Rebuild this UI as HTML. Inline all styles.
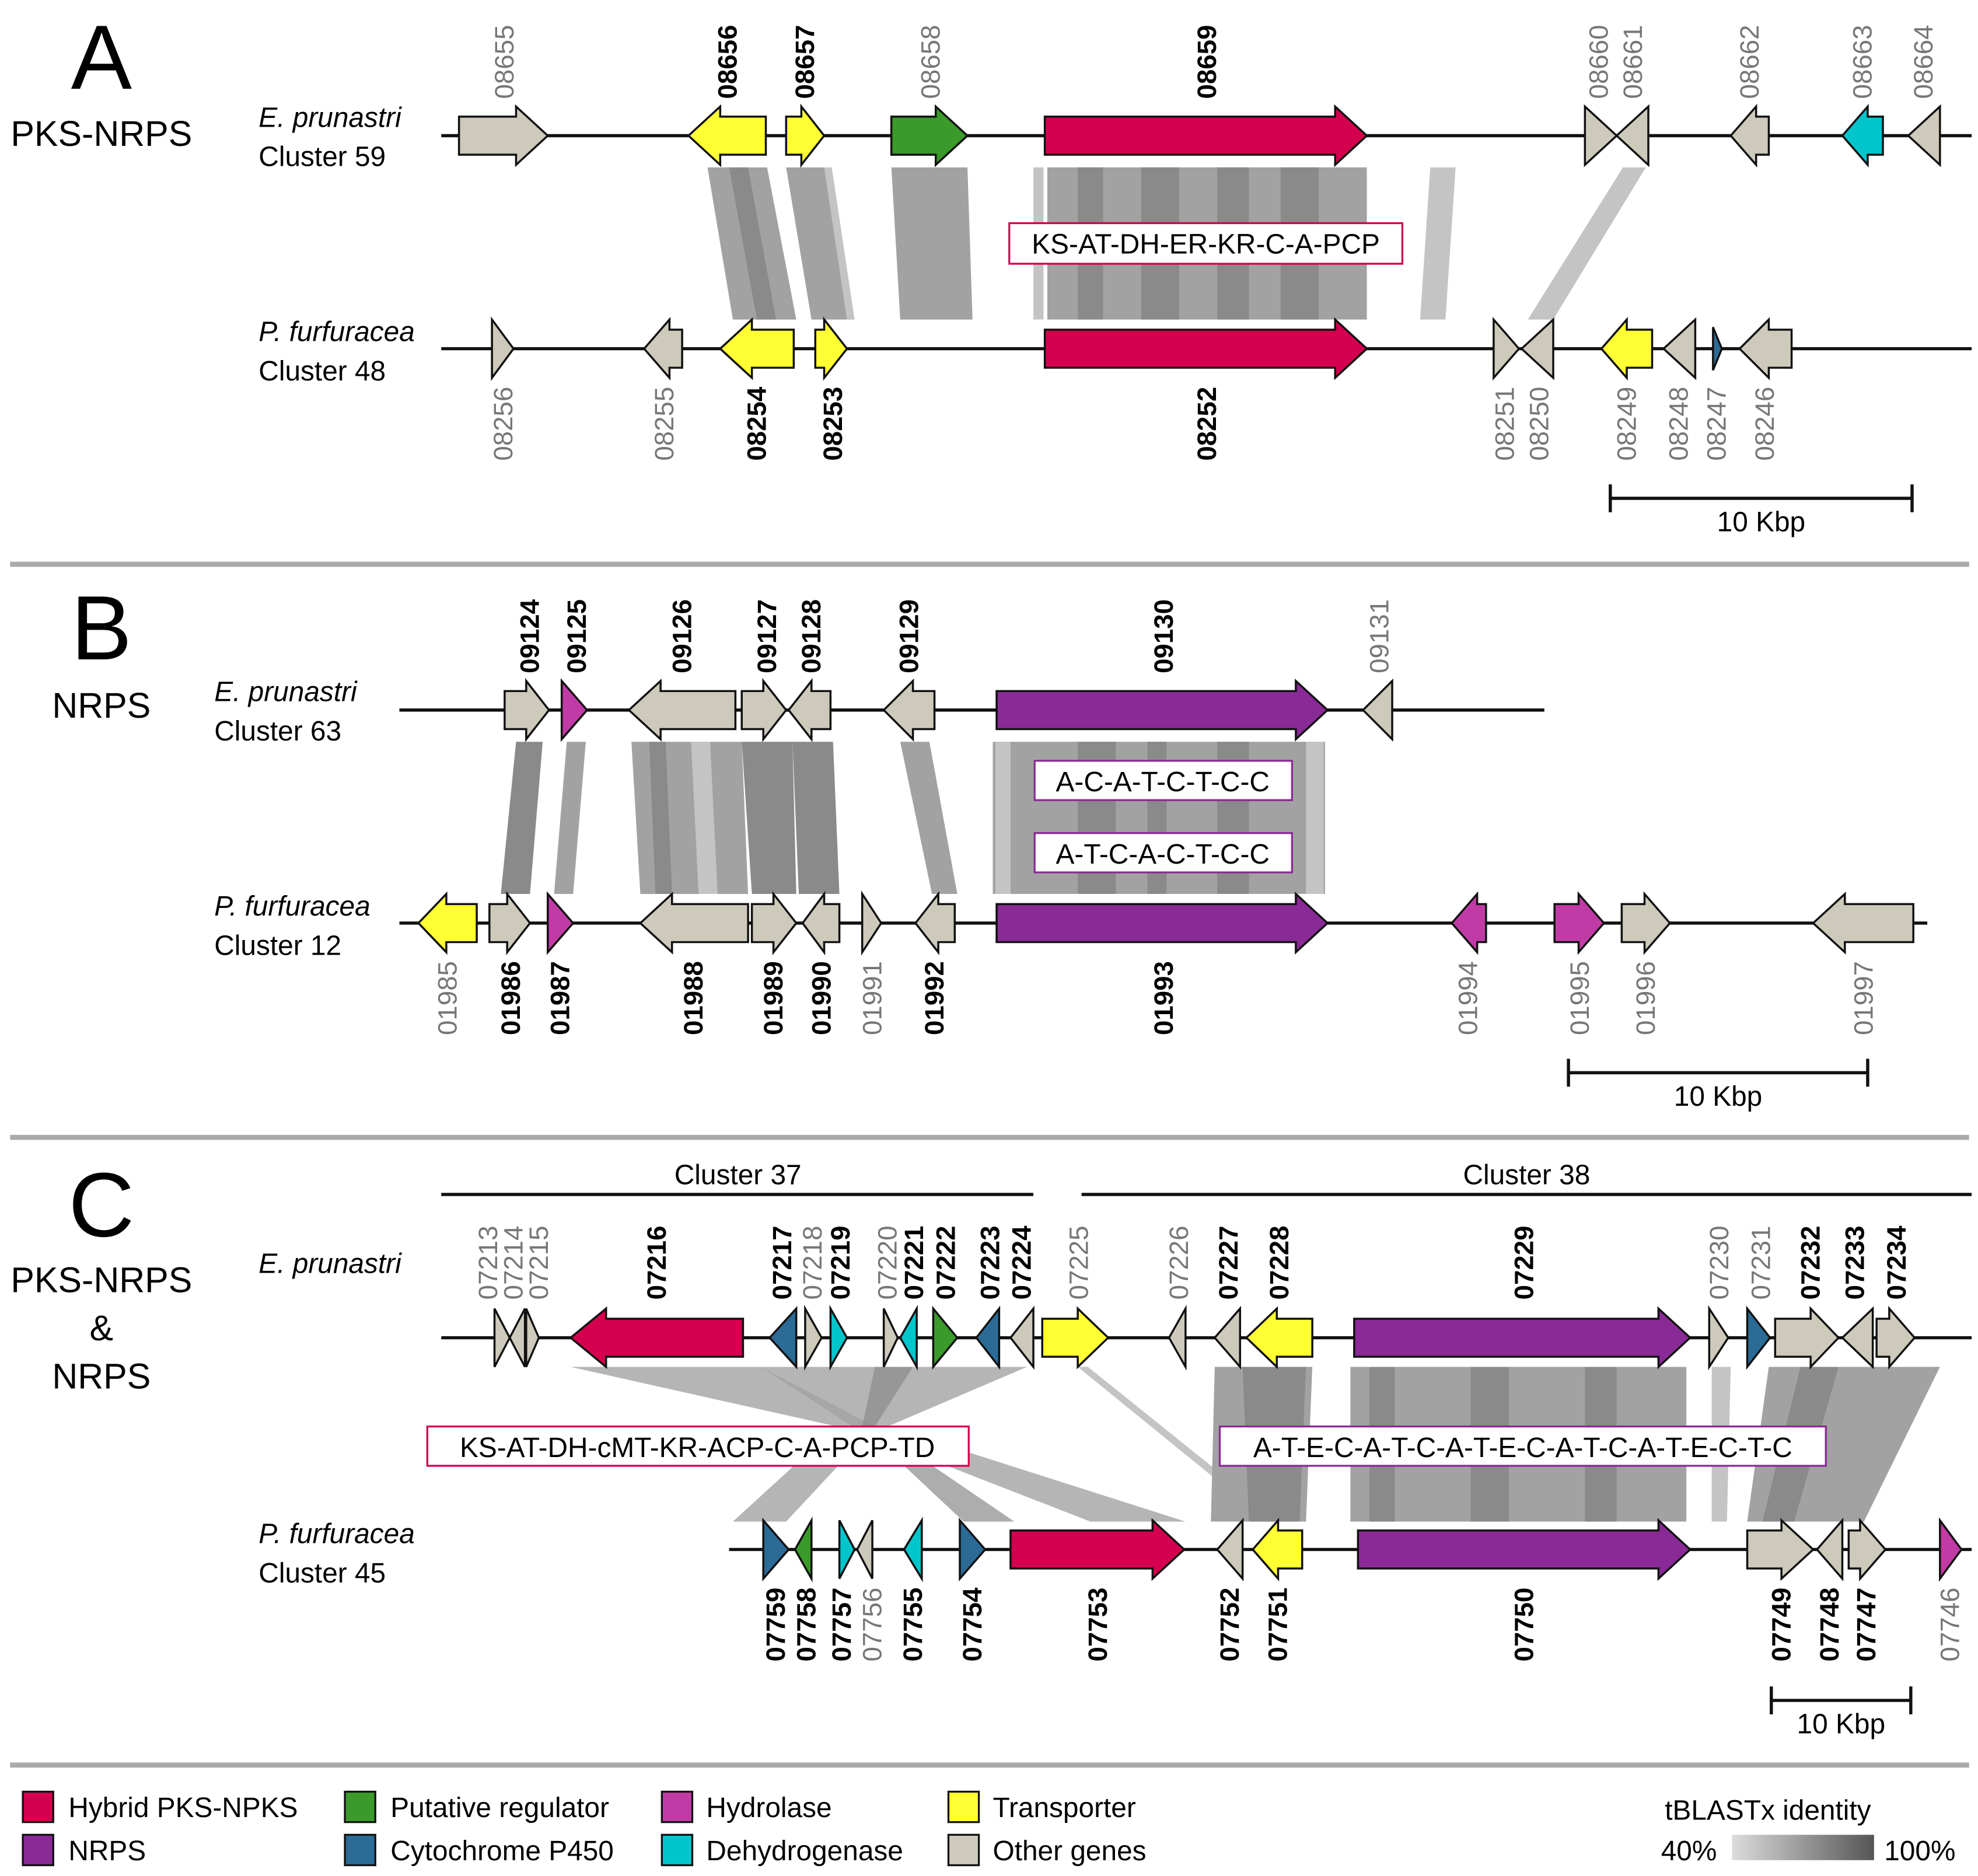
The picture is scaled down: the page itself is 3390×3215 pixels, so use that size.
<!DOCTYPE html>
<html><head><meta charset="utf-8"><style>
html,body{margin:0;padding:0;background:#fff;}
svg{display:block;}
text{font-family:"Liberation Sans",sans-serif;}
.g{fill:#cdc9bb}.cr{fill:#d4004f}.pu{fill:#8a2a96}.gr{fill:#3a9a2a}.bl{fill:#2b6b96}.cy{fill:#00c6cc}.ye{fill:#ffff33}.mg{fill:#c13ba6}
polygon.gene{stroke:#111;stroke-width:1.6;stroke-linejoin:miter}
.lb{font-size:21px;fill:#777}
.lb.b{fill:#000;font-weight:bold}
.band{fill:#a2a2a2}
.bd{fill:#8a8a8a}
.bl2{fill:#c4c4c4}
</style></head><body>
<svg width="3390" height="3215" viewBox="0 0 1560 1479.5" preserveAspectRatio="none" xmlns="http://www.w3.org/2000/svg">
<defs><linearGradient id="gd" x1="0" x2="1"><stop offset="0" stop-color="#dcdcdc"/><stop offset="1" stop-color="#555"/></linearGradient></defs>

<!-- ===== Panel A ===== -->
<text x="80" y="70" font-size="72" text-anchor="middle">A</text>
<text x="80" y="115" font-size="28" text-anchor="middle">PKS-NRPS</text>
<text x="204" y="100" font-size="22" font-style="italic">E. prunastri</text>
<text x="204" y="131" font-size="22">Cluster 59</text>
<text x="204" y="269" font-size="22" font-style="italic">P. furfuracea</text>
<text x="204" y="300" font-size="22">Cluster 48</text>

<!-- bands A -->
<polygon class="band" points="558,132 605,132 628,252 578,252"/>
<polygon class="bd" points="575,132 590,132 612,252 597,252"/>
<polygon class="band" points="620,132 650,132 672,252 640,252"/>
<polygon class="bl2" points="650,132 656,132 674,252 668,252"/>
<polygon class="band" points="703,132 763,132 767,252 710,252"/>
<rect class="band" x="826" y="132" width="252" height="120"/>
<rect class="bd" x="850" y="132" width="20" height="120"/><rect class="bd" x="900" y="132" width="30" height="120"/><rect class="bd" x="960" y="132" width="25" height="120"/><rect class="bd" x="1010" y="132" width="30" height="120"/>
<rect class="bl2" x="815" y="132" width="8" height="120"/>
<polygon class="bl2" points="1128,132 1148,132 1140,252 1120,252"/>
<polygon class="bl2" points="1280,132 1298,132 1225,252 1205,252"/>
<rect x="796" y="176" width="310" height="32" fill="#fff" stroke="#d4004f" stroke-width="1.5"/>
<text x="951" y="200" font-size="22" text-anchor="middle">KS-AT-DH-ER-KR-C-A-PCP</text>

<line x1="348" y1="107" x2="1555" y2="107" stroke="#111" stroke-width="2.5"/>
<line x1="348" y1="275" x2="1555" y2="275" stroke="#111" stroke-width="2.5"/>
<polygon class="gene g" points="362,92 407,92 407,84 432,107 407,130 407,122 362,122"/>
<polygon class="gene ye" points="604,92 568,92 568,84 543,107 568,130 568,122 604,122"/>
<polygon class="gene ye" points="620,92 632,92 632,84 650,107 632,130 632,122 620,122"/>
<polygon class="gene gr" points="703,92 738,92 738,84 763,107 738,130 738,122 703,122"/>
<polygon class="gene cr" points="824,92 1053,92 1053,84 1078,107 1053,130 1053,122 824,122"/>
<polygon class="gene g" points="1250,84 1275,107 1250,130"/>
<polygon class="gene g" points="1300,84 1275,107 1300,130"/>
<polygon class="gene g" points="1395,92 1385,92 1385,84 1365,107 1385,130 1385,122 1395,122"/>
<polygon class="gene cy" points="1485,92 1473,92 1473,84 1453,107 1473,130 1473,122 1485,122"/>
<polygon class="gene g" points="1530,84 1505,107 1530,130"/>

<polygon class="gene g" points="388,252 405,275 388,298"/>
<polygon class="gene g" points="538,260 528,260 528,252 508,275 528,298 528,290 538,290"/>
<polygon class="gene ye" points="626,260 593,260 593,252 568,275 593,298 593,290 626,290"/>
<polygon class="gene ye" points="643,260 650,260 650,252 668,275 650,298 650,290 643,290"/>
<polygon class="gene cr" points="824,260 1053,260 1053,252 1078,275 1053,298 1053,290 824,290"/>
<polygon class="gene g" points="1178,252 1198,275 1178,298"/>
<polygon class="gene g" points="1225,252 1200,275 1225,298"/>
<polygon class="gene ye" points="1303,260 1283,260 1283,252 1263,275 1283,298 1283,290 1303,290"/>
<polygon class="gene g" points="1337,252 1312,275 1337,298"/>
<polygon class="gene bl" points="1351,258 1358,275 1351,292"/>
<polygon class="gene g" points="1413,260 1395,260 1395,252 1372,275 1395,298 1395,290 1413,290"/>

<g>
<text class="lb" transform="translate(405,78) rotate(-90)">08655</text>
<text class="lb b" transform="translate(581,78) rotate(-90)">08656</text>
<text class="lb b" transform="translate(642,78) rotate(-90)">08657</text>
<text class="lb" transform="translate(741,78) rotate(-90)">08658</text>
<text class="lb b" transform="translate(959,78) rotate(-90)">08659</text>
<text class="lb" transform="translate(1268,78) rotate(-90)">08660</text>
<text class="lb" transform="translate(1295,78) rotate(-90)">08661</text>
<text class="lb" transform="translate(1387,78) rotate(-90)">08662</text>
<text class="lb" transform="translate(1476,78) rotate(-90)">08663</text>
<text class="lb" transform="translate(1524,78) rotate(-90)">08664</text>

<text class="lb" text-anchor="end" transform="translate(404,305) rotate(-90)">08256</text>
<text class="lb" text-anchor="end" transform="translate(531,305) rotate(-90)">08255</text>
<text class="lb b" text-anchor="end" transform="translate(604,305) rotate(-90)">08254</text>
<text class="lb b" text-anchor="end" transform="translate(664,305) rotate(-90)">08253</text>
<text class="lb b" text-anchor="end" transform="translate(959,305) rotate(-90)">08252</text>
<text class="lb" text-anchor="end" transform="translate(1194,305) rotate(-90)">08251</text>
<text class="lb" text-anchor="end" transform="translate(1221,305) rotate(-90)">08250</text>
<text class="lb" text-anchor="end" transform="translate(1290,305) rotate(-90)">08249</text>
<text class="lb" text-anchor="end" transform="translate(1331,305) rotate(-90)">08248</text>
<text class="lb" text-anchor="end" transform="translate(1361,305) rotate(-90)">08247</text>
<text class="lb" text-anchor="end" transform="translate(1399,305) rotate(-90)">08246</text>
</g>

<line x1="1270" y1="393" x2="1508" y2="393" stroke="#111" stroke-width="2.5"/>
<line x1="1270" y1="382" x2="1270" y2="404" stroke="#111" stroke-width="2.5"/>
<line x1="1508" y1="382" x2="1508" y2="404" stroke="#111" stroke-width="2.5"/>
<text x="1389" y="419" font-size="22" text-anchor="middle">10 Kbp</text>

<line x1="8" y1="445" x2="1553" y2="445" stroke="#aaa" stroke-width="4"/>

<!-- ===== Panel B ===== -->
<text x="80" y="520" font-size="72" text-anchor="middle">B</text>
<text x="80" y="566" font-size="28" text-anchor="middle">NRPS</text>
<text x="169" y="553" font-size="22" font-style="italic">E. prunastri</text>
<text x="169" y="584" font-size="22">Cluster 63</text>
<text x="169" y="722" font-size="22" font-style="italic">P. furfuracea</text>
<text x="169" y="753" font-size="22">Cluster 12</text>

<polygon class="bd" points="407,585 428,585 418,705 395,705"/>
<polygon class="band" points="447,585 462,585 452,705 437,705"/>
<polygon class="band" points="498,585 585,585 590,705 505,705"/>
<polygon class="bd" points="512,585 525,585 530,705 517,705"/>
<polygon class="bl2" points="545,585 560,585 566,705 551,705"/>
<polygon class="bd" points="585,585 625,585 628,705 593,705"/>
<polygon class="bd" points="625,585 657,585 662,705 630,705"/>
<polygon class="band" points="710,585 733,585 755,705 735,705"/>
<rect class="band" x="783" y="585" width="262" height="120"/>
<rect class="bd" x="850" y="585" width="30" height="120"/><rect class="bd" x="905" y="585" width="15" height="120"/><rect class="bd" x="960" y="585" width="25" height="120"/>
<rect class="bl2" x="785" y="585" width="12" height="120"/><rect class="bl2" x="1030" y="585" width="14" height="120"/>
<rect x="816" y="600" width="203" height="31" fill="#fff" stroke="#8a2a96" stroke-width="1.5"/>
<text x="917" y="624" font-size="22" text-anchor="middle">A-C-A-T-C-T-C-C</text>
<rect x="816" y="657" width="203" height="31" fill="#fff" stroke="#8a2a96" stroke-width="1.5"/>
<text x="917" y="681" font-size="22" text-anchor="middle">A-T-C-A-C-T-C-C</text>

<line x1="315" y1="560" x2="1218" y2="560" stroke="#111" stroke-width="2.5"/>
<line x1="315" y1="728" x2="1520" y2="728" stroke="#111" stroke-width="2.5"/>
<polygon class="gene g" points="398,545 415,545 415,537 433,560 415,583 415,575 398,575"/>
<polygon class="gene mg" points="443,537 463,560 443,583"/>
<polygon class="gene g" points="580,545 521,545 521,537 496,560 521,583 521,575 580,575"/>
<polygon class="gene g" points="585,545 602,545 602,537 620,560 602,583 602,575 585,575"/>
<polygon class="gene g" points="655,545 640,545 640,537 622,560 640,583 640,575 655,575"/>
<polygon class="gene g" points="737,545 720,545 720,537 697,560 720,583 720,575 737,575"/>
<polygon class="gene pu" points="786,545 1022,545 1022,537 1047,560 1022,583 1022,575 786,575"/>
<polygon class="gene g" points="1098,537 1075,560 1098,583"/>

<polygon class="gene ye" points="376,713 352,713 352,705 330,728 352,751 352,743 376,743"/>
<polygon class="gene g" points="386,713 400,713 400,705 418,728 400,751 400,743 386,743"/>
<polygon class="gene mg" points="432,705 452,728 432,751"/>
<polygon class="gene g" points="590,713 530,713 530,705 505,728 530,751 530,743 590,743"/>
<polygon class="gene g" points="593,713 610,713 610,705 628,728 610,751 610,743 593,743"/>
<polygon class="gene g" points="662,713 650,713 650,705 633,728 650,751 650,743 662,743"/>
<polygon class="gene g" points="680,705 695,728 680,751"/>
<polygon class="gene g" points="753,713 740,713 740,705 722,728 740,751 740,743 753,743"/>
<polygon class="gene pu" points="786,713 1022,713 1022,705 1047,728 1022,751 1022,743 786,743"/>
<polygon class="gene mg" points="1172,713 1165,713 1165,705 1145,728 1165,751 1165,743 1172,743"/>
<polygon class="gene mg" points="1226,713 1245,713 1245,705 1265,728 1245,751 1245,743 1226,743"/>
<polygon class="gene g" points="1279,713 1297,713 1297,705 1317,728 1297,751 1297,743 1279,743"/>
<polygon class="gene g" points="1509,713 1455,713 1455,705 1430,728 1455,751 1455,743 1509,743"/>

<g>
<text class="lb b" transform="translate(425,531) rotate(-90)">09124</text>
<text class="lb b" transform="translate(462,531) rotate(-90)">09125</text>
<text class="lb b" transform="translate(545,531) rotate(-90)">09126</text>
<text class="lb b" transform="translate(612,531) rotate(-90)">09127</text>
<text class="lb b" transform="translate(647,531) rotate(-90)">09128</text>
<text class="lb b" transform="translate(724,531) rotate(-90)">09129</text>
<text class="lb b" transform="translate(925,531) rotate(-90)">09130</text>
<text class="lb" transform="translate(1095,531) rotate(-90)">09131</text>

<text class="lb" text-anchor="end" transform="translate(360,758) rotate(-90)">01985</text>
<text class="lb b" text-anchor="end" transform="translate(410,758) rotate(-90)">01986</text>
<text class="lb b" text-anchor="end" transform="translate(449,758) rotate(-90)">01987</text>
<text class="lb b" text-anchor="end" transform="translate(554,758) rotate(-90)">01988</text>
<text class="lb b" text-anchor="end" transform="translate(617,758) rotate(-90)">01989</text>
<text class="lb b" text-anchor="end" transform="translate(655,758) rotate(-90)">01990</text>
<text class="lb" text-anchor="end" transform="translate(695,758) rotate(-90)">01991</text>
<text class="lb b" text-anchor="end" transform="translate(744,758) rotate(-90)">01992</text>
<text class="lb b" text-anchor="end" transform="translate(925,758) rotate(-90)">01993</text>
<text class="lb" text-anchor="end" transform="translate(1165,758) rotate(-90)">01994</text>
<text class="lb" text-anchor="end" transform="translate(1253,758) rotate(-90)">01995</text>
<text class="lb" text-anchor="end" transform="translate(1305,758) rotate(-90)">01996</text>
<text class="lb" text-anchor="end" transform="translate(1477,758) rotate(-90)">01997</text>
</g>

<line x1="1237" y1="846" x2="1473" y2="846" stroke="#111" stroke-width="2.5"/>
<line x1="1237" y1="835" x2="1237" y2="857" stroke="#111" stroke-width="2.5"/>
<line x1="1473" y1="835" x2="1473" y2="857" stroke="#111" stroke-width="2.5"/>
<text x="1355" y="872" font-size="22" text-anchor="middle">10 Kbp</text>

<line x1="8" y1="897" x2="1553" y2="897" stroke="#aaa" stroke-width="4"/>

<!-- ===== Panel C ===== -->
<text x="80" y="975" font-size="72" text-anchor="middle">C</text>
<text x="80" y="1019" font-size="28" text-anchor="middle">PKS-NRPS</text>
<text x="80" y="1057" font-size="28" text-anchor="middle">&amp;</text>
<text x="80" y="1095" font-size="28" text-anchor="middle">NRPS</text>
<text x="204" y="1004" font-size="22" font-style="italic">E. prunastri</text>
<text x="204" y="1217" font-size="22" font-style="italic">P. furfuracea</text>
<text x="204" y="1248" font-size="22">Cluster 45</text>

<line x1="348" y1="942" x2="815" y2="942" stroke="#111" stroke-width="2.5"/>
<text x="582" y="934" font-size="22" text-anchor="middle">Cluster 37</text>
<line x1="853" y1="942" x2="1555" y2="942" stroke="#111" stroke-width="2.5"/>
<text x="1204" y="934" font-size="22" text-anchor="middle">Cluster 38</text>

<!-- bands C -->
<polygon class="band" points="450,1078 600,1078 690,1125 620,1200 578,1200 660,1125" opacity="0.8"/>
<polygon class="band" points="600,1078 810,1078 700,1125 935,1200 860,1200 680,1130" opacity="0.8"/>
<polygon class="bd" points="690,1078 720,1078 690,1125 800,1200 760,1200 680,1125" opacity="0.7"/>
<polygon class="bl2" points="850,1078 858,1078 1010,1200 1000,1200"/>
<polygon class="band" points="958,1078 1035,1078 1030,1200 955,1200"/>
<polygon class="bd" points="980,1078 1030,1078 1025,1200 985,1200"/>
<rect class="band" x="1065" y="1078" width="265" height="122"/>
<rect class="bd" x="1080" y="1078" width="20" height="122"/><rect class="bd" x="1160" y="1078" width="30" height="122"/><rect class="bd" x="1250" y="1078" width="25" height="122"/>
<polygon class="bl2" points="1350,1078 1365,1078 1362,1200 1350,1200"/>
<polygon class="band" points="1395,1078 1530,1078 1470,1200 1378,1200"/>
<polygon class="bd" points="1420,1078 1450,1078 1415,1200 1390,1200"/>
<rect x="337" y="1125" width="427" height="31" fill="#fff" stroke="#d4004f" stroke-width="1.5"/>
<text x="550" y="1149" font-size="22" text-anchor="middle">KS-AT-DH-cMT-KR-ACP-C-A-PCP-TD</text>
<rect x="962" y="1125" width="478" height="31" fill="#fff" stroke="#8a2a96" stroke-width="1.5"/>
<text x="1201" y="1149" font-size="22" text-anchor="middle">A-T-E-C-A-T-C-A-T-E-C-A-T-C-A-T-E-C-T-C</text>

<line x1="348" y1="1055" x2="1555" y2="1055" stroke="#111" stroke-width="2.5"/>
<line x1="575" y1="1222" x2="1555" y2="1222" stroke="#111" stroke-width="2.5"/>
<polygon class="gene g" points="390,1032 402,1055 390,1078"/>
<polygon class="gene g" points="414,1032 402,1055 414,1078"/>
<polygon class="gene g" points="415,1032 425,1055 415,1078"/>
<polygon class="gene cr" points="586,1040 478,1040 478,1032 450,1055 478,1078 478,1070 586,1070"/>
<polygon class="gene bl" points="628,1032 607,1055 628,1078"/>
<polygon class="gene g" points="635,1032 648,1055 635,1078"/>
<polygon class="gene cy" points="655,1032 668,1055 655,1078"/>
<polygon class="gene g" points="697,1032 708,1055 697,1078"/>
<polygon class="gene cy" points="723,1032 710,1055 723,1078"/>
<polygon class="gene gr" points="736,1032 755,1055 736,1078"/>
<polygon class="gene bl" points="788,1032 770,1055 788,1078"/>
<polygon class="gene g" points="815,1032 797,1055 815,1078"/>
<polygon class="gene ye" points="822,1040 850,1040 850,1032 874,1055 850,1078 850,1070 822,1070"/>
<polygon class="gene g" points="935,1032 922,1055 935,1078"/>
<polygon class="gene g" points="978,1032 958,1055 978,1078"/>
<polygon class="gene ye" points="1035,1040 1007,1040 1007,1032 983,1055 1007,1078 1007,1070 1035,1070"/>
<polygon class="gene pu" points="1068,1040 1308,1040 1308,1032 1333,1055 1308,1078 1308,1070 1068,1070"/>
<polygon class="gene g" points="1348,1032 1363,1055 1348,1078"/>
<polygon class="gene bl" points="1378,1032 1396,1055 1378,1078"/>
<polygon class="gene g" points="1400,1040 1428,1040 1428,1032 1450,1055 1428,1078 1428,1070 1400,1070"/>
<polygon class="gene g" points="1477,1032 1453,1055 1477,1078"/>
<polygon class="gene g" points="1480,1040 1490,1040 1490,1032 1510,1055 1490,1078 1490,1070 1480,1070"/>

<polygon class="gene bl" points="602,1199 622,1222 602,1245"/>
<polygon class="gene gr" points="640,1199 627,1222 640,1245"/>
<polygon class="gene cy" points="662,1199 674,1222 662,1245"/>
<polygon class="gene g" points="688,1199 676,1222 688,1245"/>
<polygon class="gene cy" points="727,1199 713,1222 727,1245"/>
<polygon class="gene bl" points="757,1199 777,1222 757,1245"/>
<polygon class="gene cr" points="797,1207 909,1207 909,1199 934,1222 909,1245 909,1237 797,1237"/>
<polygon class="gene g" points="980,1199 960,1222 980,1245"/>
<polygon class="gene ye" points="1027,1207 1008,1207 1008,1199 988,1222 1008,1245 1008,1237 1027,1237"/>
<polygon class="gene pu" points="1071,1207 1308,1207 1308,1199 1333,1222 1308,1245 1308,1237 1071,1237"/>
<polygon class="gene g" points="1378,1207 1405,1207 1405,1199 1430,1222 1405,1245 1405,1237 1378,1237"/>
<polygon class="gene g" points="1453,1199 1433,1222 1453,1245"/>
<polygon class="gene g" points="1458,1207 1467,1207 1467,1199 1487,1222 1467,1245 1467,1237 1458,1237"/>
<polygon class="gene mg" points="1530,1199 1547,1222 1530,1245"/>

<g>
<text class="lb" transform="translate(392,1025) rotate(-90)">07213</text>
<text class="lb" transform="translate(412,1025) rotate(-90)">07214</text>
<text class="lb" transform="translate(432,1025) rotate(-90)">07215</text>
<text class="lb b" transform="translate(525,1025) rotate(-90)">07216</text>
<text class="lb b" transform="translate(624,1025) rotate(-90)">07217</text>
<text class="lb" transform="translate(648,1025) rotate(-90)">07218</text>
<text class="lb b" transform="translate(670,1025) rotate(-90)">07219</text>
<text class="lb" transform="translate(707,1025) rotate(-90)">07220</text>
<text class="lb b" transform="translate(728,1025) rotate(-90)">07221</text>
<text class="lb b" transform="translate(753,1025) rotate(-90)">07222</text>
<text class="lb b" transform="translate(788,1025) rotate(-90)">07223</text>
<text class="lb b" transform="translate(813,1025) rotate(-90)">07224</text>
<text class="lb" transform="translate(858,1025) rotate(-90)">07225</text>
<text class="lb" transform="translate(937,1025) rotate(-90)">07226</text>
<text class="lb b" transform="translate(976,1025) rotate(-90)">07227</text>
<text class="lb b" transform="translate(1016,1025) rotate(-90)">07228</text>
<text class="lb b" transform="translate(1209,1025) rotate(-90)">07229</text>
<text class="lb" transform="translate(1363,1025) rotate(-90)">07230</text>
<text class="lb" transform="translate(1396,1025) rotate(-90)">07231</text>
<text class="lb b" transform="translate(1435,1025) rotate(-90)">07232</text>
<text class="lb b" transform="translate(1470,1025) rotate(-90)">07233</text>
<text class="lb b" transform="translate(1503,1025) rotate(-90)">07234</text>

<text class="lb b" text-anchor="end" transform="translate(619,1252) rotate(-90)">07759</text>
<text class="lb b" text-anchor="end" transform="translate(643,1252) rotate(-90)">07758</text>
<text class="lb b" text-anchor="end" transform="translate(671,1252) rotate(-90)">07757</text>
<text class="lb" text-anchor="end" transform="translate(695,1252) rotate(-90)">07756</text>
<text class="lb b" text-anchor="end" transform="translate(727,1252) rotate(-90)">07755</text>
<text class="lb b" text-anchor="end" transform="translate(774,1252) rotate(-90)">07754</text>
<text class="lb b" text-anchor="end" transform="translate(873,1252) rotate(-90)">07753</text>
<text class="lb b" text-anchor="end" transform="translate(977,1252) rotate(-90)">07752</text>
<text class="lb b" text-anchor="end" transform="translate(1015,1252) rotate(-90)">07751</text>
<text class="lb b" text-anchor="end" transform="translate(1209,1252) rotate(-90)">07750</text>
<text class="lb b" text-anchor="end" transform="translate(1412,1252) rotate(-90)">07749</text>
<text class="lb b" text-anchor="end" transform="translate(1450,1252) rotate(-90)">07748</text>
<text class="lb b" text-anchor="end" transform="translate(1479,1252) rotate(-90)">07747</text>
<text class="lb" text-anchor="end" transform="translate(1545,1252) rotate(-90)">07746</text>
</g>

<line x1="1397" y1="1341" x2="1507" y2="1341" stroke="#111" stroke-width="2.5"/>
<line x1="1397" y1="1330" x2="1397" y2="1352" stroke="#111" stroke-width="2.5"/>
<line x1="1507" y1="1330" x2="1507" y2="1352" stroke="#111" stroke-width="2.5"/>
<text x="1452" y="1367" font-size="22" text-anchor="middle">10 Kbp</text>

<line x1="8" y1="1392" x2="1553" y2="1392" stroke="#aaa" stroke-width="4"/>

<!-- Legend -->
<g font-size="22" stroke-width="1.5">
<rect x="18" y="1413" width="24" height="24" class="cr" stroke="#111"/><text x="54" y="1433">Hybrid PKS-NPKS</text>
<rect x="18" y="1447" width="24" height="24" class="pu" stroke="#111"/><text x="54" y="1467">NRPS</text>
<rect x="272" y="1413" width="24" height="24" class="gr" stroke="#111"/><text x="308" y="1433">Putative regulator</text>
<rect x="272" y="1447" width="24" height="24" class="bl" stroke="#111"/><text x="308" y="1467">Cytochrome P450</text>
<rect x="522" y="1413" width="24" height="24" class="mg" stroke="#111"/><text x="557" y="1433">Hydrolase</text>
<rect x="522" y="1447" width="24" height="24" class="cy" stroke="#111"/><text x="557" y="1467">Dehydrogenase</text>
<rect x="748" y="1413" width="24" height="24" class="ye" stroke="#111"/><text x="783" y="1433">Transporter</text>
<rect x="748" y="1447" width="24" height="24" class="g" stroke="#111"/><text x="783" y="1467">Other genes</text>
</g>
<text x="1313" y="1435" font-size="22">tBLASTx identity</text>
<rect x="1366" y="1447" width="112" height="20" fill="url(#gd)"/>
<text x="1310" y="1467" font-size="22">40%</text>
<text x="1486" y="1467" font-size="22">100%</text>
</svg>
</body></html>
